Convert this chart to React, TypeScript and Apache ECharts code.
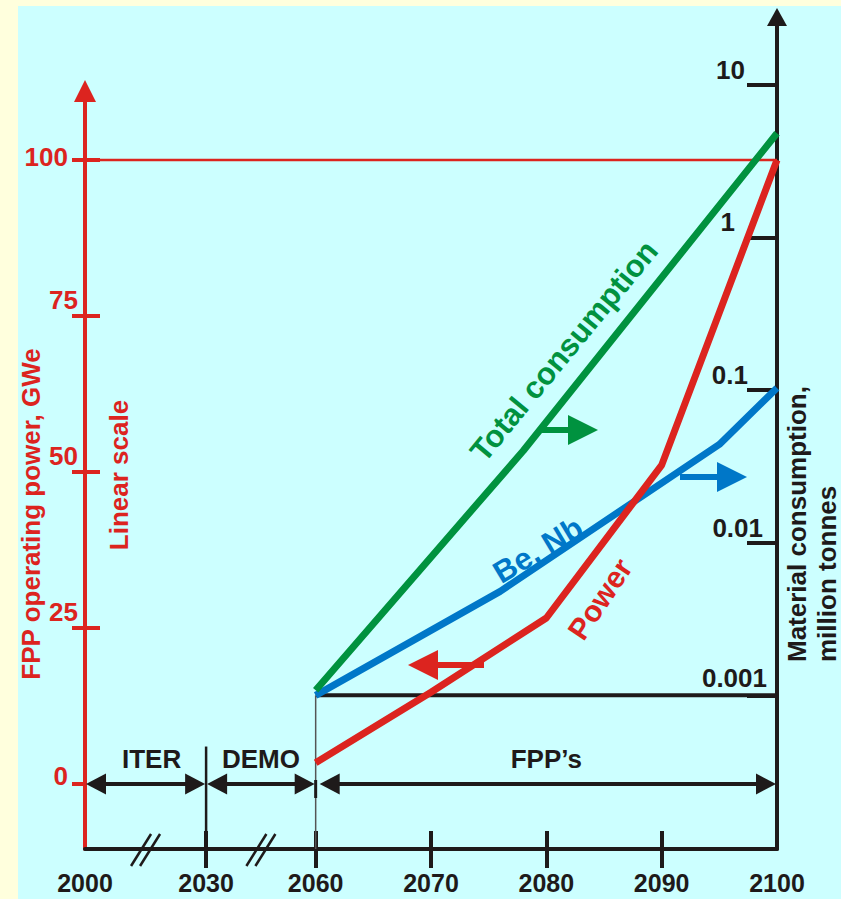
import React, { useEffect, useRef } from "react";
import * as echarts from "echarts";

// ---------- data ----------
const powerYears = [2060, 2070, 2080, 2090, 2100];
const powerGWe = [3.4, 14.7, 26.6, 51.1, 100];

const totalYears = [2060, 2078, 2100];
const totalMt = [0.00108, 0.04, 4.8];

const beNbYears = [2060, 2076, 2095, 2100];
const beNbMt = [0.001, 0.0048, 0.044, 0.103];

const xTickYears = [2000, 2030, 2060, 2070, 2080, 2090, 2100];
const xTickPos = [0, 1.05, 2, 3, 4, 5, 6];
const powerTicks = [0, 25, 50, 75, 100];
const logTicks = [0.001, 0.01, 0.1, 1, 10];
const logTickLabels = ["0.001", "0.01", "0.1", "1", "10"];

const phaseNames = ["ITER", "DEMO", "FPP\u2019s"];
const phaseStart = [2000, 2030, 2060];
const phaseEnd = [2030, 2060, 2100];

// ---------- style ----------
const RED = "#DC241F";
const GREEN = "#00923F";
const BLUE = "#0077C8";
const BLACK = "#1E1A1A";
const CYAN = "#CCFFFF";
const YELLOW = "#FFFFDD";
const FONT = "'Liberation Sans', Arial, sans-serif";
const NUM = 26;
const BOLD25 = `bold 26px ${FONT}`;

function yearToX(year: number): number {
  for (let i = 1; i < xTickYears.length; i++) {
    if (year <= xTickYears[i]) {
      const y0 = xTickYears[i - 1];
      const y1 = xTickYears[i];
      return xTickPos[i - 1] + ((xTickPos[i] - xTickPos[i - 1]) * (year - y0)) / (y1 - y0);
    }
  }
  return xTickPos[xTickPos.length - 1];
}

function text(t: string, x: number, y: number, color: string, rotation = 0, align = "center", font = BOLD25) {
  return {
    type: "text",
    x,
    y,
    rotation,
    z: 10,
    style: {
      text: t,
      fill: color,
      font,
      align,
      verticalAlign: "middle",
      textAlign: align,
      textVerticalAlign: "middle",
    },
  };
}

function line(x1: number, y1: number, x2: number, y2: number, color: string, width: number) {
  return {
    type: "line",
    z: 1,
    shape: { x1, y1, x2, y2 },
    style: { stroke: color, lineWidth: width },
  };
}

function tri(tipX: number, tipY: number, dir: number, len: number, half: number, color: string) {
  const bx = tipX - dir * len;
  return {
    type: "polygon",
    z: 5,
    shape: { points: [[tipX, tipY], [bx, tipY - half], [bx, tipY + half]] },
    style: { fill: color },
  };
}

export default function App() {
  const ref = useRef<HTMLDivElement>(null);

  useEffect(() => {
    if (!ref.current) return;
    const chart = echarts.init(ref.current, undefined, { renderer: "svg" });

    const leftRich: any = {};
    const leftPad = [
      [0, 10, 16, 0],
      [0, 0, 31, 0],
      [0, 0, 32, 0],
      [0, 0, 32, 0],
      [0, 10, 6, 0],
    ];
    leftPad.forEach((p, i) => {
      leftRich["p" + i] = { color: RED, fontSize: NUM, fontWeight: "bold", fontFamily: FONT, padding: p };
    });
    const rightRich: any = {};
    const rightPad = [
      [0, 0, 4, 0],
      [0, 4, 2, 0],
      [0, 19, 2, 0],
      [0, 32, 2, 0],
      [0, 22, 2, 0],
    ];
    rightPad.forEach((p, i) => {
      rightRich["r" + i] = { color: BLACK, fontSize: NUM, fontWeight: "bold", fontFamily: FONT, padding: p };
    });

    const option: any = {
      animation: false,
      backgroundColor: CYAN,
      grid: [
        { left: 85, right: 64, top: 91, bottom: 50 },
        { left: 85, right: 64, top: 17, bottom: 50 },
      ],
      xAxis: [
        {
          type: "value",
          gridIndex: 0,
          min: 0,
          max: 6,
          position: "bottom",
          axisLine: { show: true, onZero: false, lineStyle: { color: BLACK, width: 4 } },
          axisTick: {
            show: true,
            inside: false,
            length: 19,
            customValues: xTickPos.slice(1, -1),
            lineStyle: { color: BLACK, width: 4 },
          },
          axisLabel: {
            show: true,
            margin: 21,
            customValues: xTickPos,
            color: BLACK,
            fontSize: 25,
            lineHeight: 25,
            fontWeight: "bold",
            fontFamily: FONT,
            formatter: (v: number) => {
              const i = xTickPos.findIndex((p) => Math.abs(p - v) < 1e-6);
              return i >= 0 ? String(xTickYears[i]) : "";
            },
          },
          splitLine: { show: false },
        },
        {
          type: "value",
          gridIndex: 0,
          min: 0,
          max: 6,
          position: "bottom",
          axisLine: { show: false, onZero: false },
          axisTick: {
            show: true,
            inside: true,
            length: 18,
            customValues: xTickPos.slice(1, -1),
            lineStyle: { color: BLACK, width: 4 },
          },
          axisLabel: { show: false },
          splitLine: { show: false },
        },
        { type: "value", gridIndex: 1, min: 0, max: 6, show: false, splitLine: { show: false } },
      ],
      yAxis: [
        {
          type: "value",
          gridIndex: 0,
          min: -10.42,
          max: 111.06,
          position: "left",
          axisLine: {
            show: true,
            onZero: false,
            symbol: ["none", "triangle"],
            symbolSize: [22, 22],
            lineStyle: { color: RED, width: 4 },
          },
          axisTick: {
            show: true,
            inside: false,
            length: 13,
            customValues: powerTicks,
            lineStyle: { color: RED, width: 4 },
          },
          axisLabel: {
            show: true,
            margin: 7,
            customValues: powerTicks,
            color: RED,
            fontSize: NUM,
            fontWeight: "bold",
            fontFamily: FONT,
            formatter: (v: number) => {
              const i = powerTicks.indexOf(Math.round(v));
              return `{p${i}|${Math.round(v)}}`;
            },
            rich: leftRich,
          },
          splitLine: { show: false },
        },
        {
          type: "value",
          gridIndex: 0,
          min: -10.42,
          max: 111.06,
          position: "left",
          axisLine: { show: false, onZero: false },
          axisTick: {
            show: true,
            inside: true,
            length: 15,
            customValues: powerTicks.slice(1),
            lineStyle: { color: RED, width: 4 },
          },
          axisLabel: { show: false },
          splitLine: { show: false },
        },
        {
          type: "log",
          logBase: 10,
          gridIndex: 1,
          min: 9.86e-5,
          max: 27.7,
          position: "right",
          axisLine: {
            show: true,
            onZero: false,
            symbol: ["none", "triangle"],
            symbolSize: [20, 18],
            lineStyle: { color: BLACK, width: 4 },
          },
          axisTick: {
            show: true,
            inside: true,
            length: 30,
            customValues: logTicks,
            lineStyle: { color: BLACK, width: 4 },
          },
          axisLabel: {
            show: true,
            inside: true,
            margin: 10,
            verticalAlign: "bottom",
            customValues: logTicks,
            color: BLACK,
            fontSize: NUM,
            fontWeight: "bold",
            fontFamily: FONT,
            formatter: (v: number) => {
              const i = Math.round(Math.log10(v)) + 3;
              return `{r${i}|${logTickLabels[i]}}`;
            },
            rich: rightRich,
          },
          splitLine: { show: false },
        },
      ],
      series: [
        {
          type: "line",
          name: "Be, Nb",
          xAxisIndex: 2,
          yAxisIndex: 2,
          data: beNbYears.map((y, i) => [yearToX(y), beNbMt[i]]),
          symbol: "none",
          lineStyle: { color: BLUE, width: 7 },
          z: 3,
        },
        {
          type: "line",
          name: "Total consumption",
          xAxisIndex: 2,
          yAxisIndex: 2,
          data: totalYears.map((y, i) => [yearToX(y), totalMt[i]]),
          symbol: "none",
          lineStyle: { color: GREEN, width: 7 },
          z: 3,
        },
        {
          type: "line",
          name: "Power",
          xAxisIndex: 0,
          yAxisIndex: 0,
          data: powerYears.map((y, i) => [yearToX(y), powerGWe[i]]),
          symbol: "none",
          lineStyle: { color: RED, width: 7 },
          z: 4,
        },
      ],
    };
    chart.setOption(option);

    const px0 = (year: number, v: number) =>
      chart.convertToPixel({ xAxisIndex: 0, yAxisIndex: 0 }, [yearToX(year), v]) as number[];
    const px1 = (year: number, v: number) =>
      chart.convertToPixel({ xAxisIndex: 2, yAxisIndex: 2 }, [yearToX(year), v]) as number[];

    const g: any[] = [];
    g.push({ type: "rect", z: 0, shape: { x: 0, y: 0, width: 18, height: 899 }, style: { fill: YELLOW } });
    g.push({ type: "rect", z: 0, shape: { x: 0, y: 0, width: 841, height: 6 }, style: { fill: YELLOW } });

    const a = px0(2000, 100);
    const b = px0(2100, 100);
    g.push(line(a[0] + 2, a[1], b[0], b[1], RED, 2.5));
    const c = px1(2060, 0.001);
    const d = px1(2100, 0.001);
    g.push(line(c[0], c[1], d[0], d[1], BLACK, 4));

    const axisBottom = px0(2000, -10.42)[1];
    const zero = px0(2000, 0)[1];
    const x2030 = px0(2030, 0)[0];
    g.push(line(x2030, px0(2030, 6)[1], x2030, axisBottom, BLACK, 2.5));
    const x2060 = px0(2060, 0)[0];
    g.push(line(x2060, c[1], x2060, axisBottom, "#555555", 1.5));
    g.push(line(x2060, zero - 4, x2060, zero + 14, BLACK, 3));

    phaseNames.forEach((name, i) => {
      const xs = px0(phaseStart[i], 0)[0] + (i === 2 ? 4 : 1);
      const xe = px0(phaseEnd[i], 0)[0] - 1;
      g.push(line(xs + 15, zero, xe - 15, zero, BLACK, 4));
      g.push(tri(xs, zero, -1, 20, 10.5, BLACK));
      g.push(tri(xe, zero, 1, 20, 10.5, BLACK));
      const mid = (px0(phaseStart[i], 0)[0] + px0(phaseEnd[i], 0)[0]) / 2 + (i === 0 ? 6 : 0);
      g.push(text(name, mid, zero - 25, BLACK, 0, "center", `bold 26px ${FONT}`));
    });

    [px0(2015, 0)[0], px0(2045, 0)[0]].forEach((cx) => {
      [-4.5, 4.5].forEach((dx) => {
        g.push(line(cx - 10 + dx, axisBottom + 17, cx + 10 + dx, axisBottom - 15, BLACK, 2.5));
      });
    });

    g.push(line(540, 430, 570, 430, GREEN, 6));
    g.push(tri(598, 430, 1, 30, 15, GREEN));
    g.push(line(680, 477, 719, 477, BLUE, 6));
    g.push(tri(747, 477, 1, 30, 15, BLUE));
    g.push(line(484, 665, 436, 665, RED, 6));
    g.push(tri(408, 665, -1, 30, 15, RED));

    g.push(text("Total consumption", 564, 351, GREEN, (50.5 * Math.PI) / 180, "center", `bold 31px ${FONT}`));
    g.push(text("Be, Nb", 538, 550, BLUE, (31 * Math.PI) / 180, "center", `bold 31px ${FONT}`));
    g.push(text("Power", 600, 599, RED, (56 * Math.PI) / 180, "center", `bold 30px ${FONT}`));

    g.push(text("FPP operating power, GWe", 31, 514, RED, Math.PI / 2));
    g.push(text("Linear scale", 119, 475, RED, Math.PI / 2));
    g.push(text("Material consumption,", 797, 662, BLACK, Math.PI / 2, "left"));
    g.push(text("million tonnes", 827, 662, BLACK, Math.PI / 2, "left"));

    chart.setOption({ graphic: g });

    return () => chart.dispose();
  }, []);

  return (
    <div
      ref={ref}
      style={{ position: "absolute", left: 0, top: 0, width: "841px", height: "899px" }}
    />
  );
}
